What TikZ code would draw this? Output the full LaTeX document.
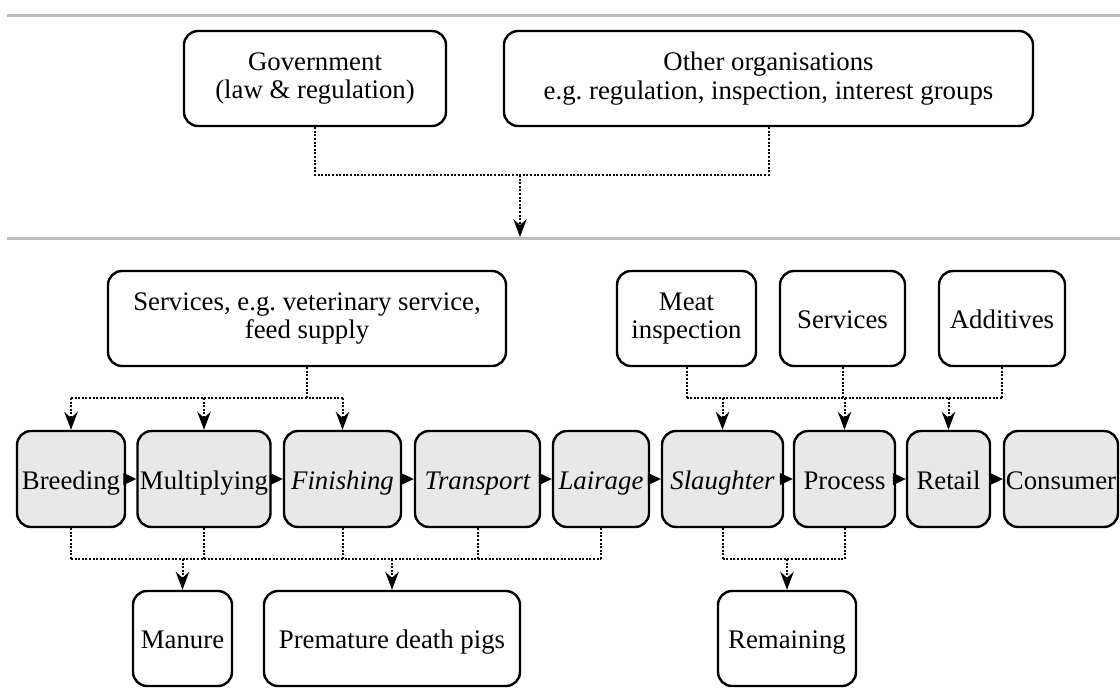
\documentclass[tikz,border=0pt]{standalone}
\usepackage{fontspec}
\setmainfont{Liberation Serif}
\frenchspacing
\usetikzlibrary{arrows.meta}
\definecolor{stagefill}{HTML}{E8E8E8}
\definecolor{rulegray}{HTML}{BDBDBD}
\tikzset{
  box/.style={draw=black, line width=2.4pt, rounded corners=14pt, align=center,
    inner sep=0pt, font=\fontsize{26.8pt}{28.5pt}\selectfont, minimum height=95pt},
  oneline/.style={text height=20pt, text depth=0pt},
  twoline/.style={execute at begin node={\rule{0pt}{25pt}}},
  stage/.style={box, oneline, fill=stagefill, minimum height=96pt},
  dotline/.style={line width=2pt, dash pattern=on 2pt off 1.6pt},
  dotarrow/.style={dotline, -{Stealth[length=18pt,width=13.5pt,inset=6pt]}},
  flow/.style={line width=1pt, -{Triangle[length=13pt,width=12pt]}},
  separator/.style={line width=3pt, draw=rulegray},
}
\begin{document}
\begin{tikzpicture}[x=1pt,y=-1pt]
\useasboundingbox (0,0) rectangle (1120,688);

% level separators
\draw[separator] (7,15) -- (1120,15);
\draw[separator] (7,238) -- (1120,238);

% regulating bodies
\node[box, twoline, minimum width=262pt] (gov) at (315,78.5) {Government\\(law \& regulation)};
\node[box, twoline, minimum width=529pt] (org) at (768.5,78.5) {Other organisations\\e.g. regulation, inspection, interest groups};

% suppliers
\node[box, twoline, minimum width=398pt] (svc) at (307,318.5) {Services, e.g. veterinary service,\\feed supply};
\node[box, twoline, minimum width=139pt] (meat) at (686.5,318.5) {Meat\\inspection};
\node[box, oneline, minimum width=125pt] (svctwo) at (842.5,318.5) {Services};
\node[box, oneline, minimum width=126pt] (add) at (1002,318.5) {Additives};

% production chain
\node[stage, minimum width=108pt] (breed) at (71,479) {Breeding};
\node[stage, minimum width=133pt] (mult) at (204,479) {Multiplying};
\node[stage, minimum width=117pt] (fin) at (342.5,479) {\itshape Finishing};
\node[stage, minimum width=125pt] (trans) at (477.5,479) {\itshape Transport};
\node[stage, minimum width=96pt] (lair) at (601,479) {\itshape Lairage};
\node[stage, minimum width=121pt] (slau) at (722.5,479) {\itshape Slaughter};
\node[stage, minimum width=101pt] (proc) at (844.5,479) {Process};
\node[stage, minimum width=83pt] (ret) at (948.5,479) {Retail};
\node[stage, minimum width=114pt] (cons) at (1061,479) {Consumer};

% outputs
\node[box, oneline, minimum width=99pt] (manure) at (182.5,638.5) {Manure};
\node[box, oneline, minimum width=256pt] (prem) at (392,638.5) {Premature death pigs};
\node[box, oneline, minimum width=138pt] (rem) at (787,638.5) {Remaining};

% chain flow
\foreach \a/\b in {breed/mult, mult/fin, fin/trans, trans/lair, lair/slau, slau/proc, proc/ret, ret/cons}
  \draw[flow] (\a.east) -- (\b.west);

% regulation influence
\coordinate (topbar) at (520,175);
\coordinate (chainlevel) at (520,237);
\draw[dotline] (gov.south) |- (topbar) -| (org.south);
\draw[dotarrow] (topbar) -- (chainlevel);

% farm-side services
\coordinate (sbar) at (307,398);
\draw[dotline] (svc.south) -- (sbar);
\draw[dotline] (breed.north |- sbar) -- (fin.north |- sbar);
\foreach \n in {breed, mult, fin}
  \draw[dotarrow] (\n.north |- sbar) -- (\n.north);

% processing-side inputs
\coordinate (rbar) at (842,398);
\draw[dotline] (meat.south |- rbar) -- (add.south |- rbar);
\foreach \n in {meat, svctwo, add}
  \draw[dotline] (\n.south) -- (\n.south |- rbar);
\foreach \n in {slau, proc, ret}
  \draw[dotarrow] (\n.north |- rbar) -- (\n.north);

% farm-side outputs
\coordinate (lbar) at (300,559);
\foreach \n in {breed, mult, fin, trans, lair}
  \draw[dotline] (\n.south) -- (\n.south |- lbar);
\draw[dotline] (breed.south |- lbar) -- (lair.south |- lbar);
\foreach \n in {manure, prem}
  \draw[dotarrow] (\n.north |- lbar) -- (\n.north);

% processing-side outputs
\coordinate (pbar) at (787,559);
\foreach \n in {slau, proc}
  \draw[dotline] (\n.south) -- (\n.south |- pbar);
\draw[dotline] (slau.south |- pbar) -- (proc.south |- pbar);
\draw[dotarrow] (pbar) -- (rem.north);
\end{tikzpicture}
\end{document}
